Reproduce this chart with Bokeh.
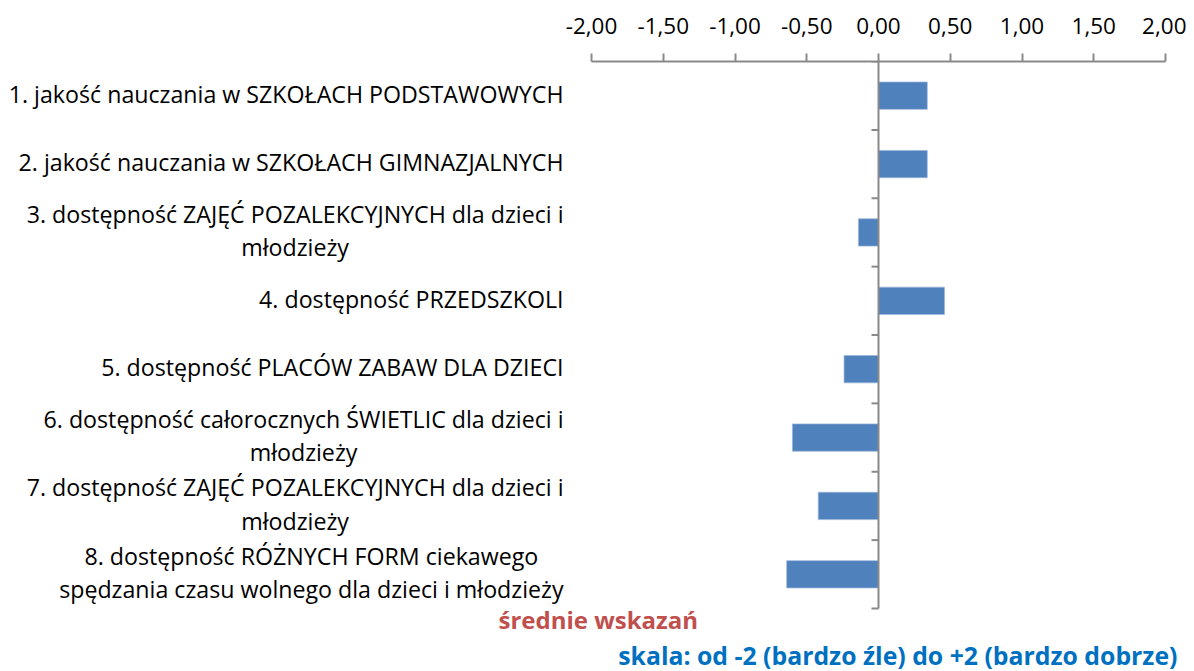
from bokeh.plotting import figure
from bokeh.models import Range1d, FixedTicker
from bokeh.core.properties import value
from bokeh.embed import file_html
from bokeh.resources import INLINE

# ---- data ----
categories = [
    "1. jakość nauczania w SZKOŁACH PODSTAWOWYCH",
    "2. jakość nauczania w SZKOŁACH GIMNAZJALNYCH",
    "3. dostępność ZAJĘĆ POZALEKCYJNYCH dla dzieci i\nmłodzieży",
    "4. dostępność PRZEDSZKOLI",
    "5. dostępność PLACÓW ZABAW DLA DZIECI",
    "6. dostępność całorocznych ŚWIETLIC dla dzieci i\nmłodzieży",
    "7. dostępność ZAJĘĆ POZALEKCYJNYCH dla dzieci i\nmłodzieży",
    "8. dostępność RÓŻNYCH FORM ciekawego\nspędzania czasu wolnego dla dzieci i młodzieży",
]
values = [0.34, 0.34, -0.14, 0.46, -0.24, -0.60, -0.42, -0.64]
tick_values = [-2.0, -1.5, -1.0, -0.5, 0.0, 0.5, 1.0, 1.5, 2.0]
tick_labels = ["-2,00", "-1,50", "-1,00", "-0,50", "0,00", "0,50", "1,00", "1,50", "2,00"]
series_title = "średnie wskazań"
scale_note = "skala: od -2 (bardzo źle) do +2 (bardzo dobrze)"

# ---- layout constants (pixels) ----
W, H = 1186, 671
PX_PER_UNIT = 143.5
ZERO_X = 878
FRAME_TOP = 61
ROWS_BOTTOM = 608
FONT = "Open Sans"
n = len(categories)

row_px = (ROWS_BOTTOM - FRAME_TOP) / n
x_start = (0 - ZERO_X) / PX_PER_UNIT
x_end = (W - ZERO_X) / PX_PER_UNIT
y_bottom = (H - FRAME_TOP) / row_px

def px_x(px):
    return (px - ZERO_X) / PX_PER_UNIT

def px_y(py):
    return (py - FRAME_TOP) / row_px

p = figure(width=W, height=H, output_backend="svg", toolbar_location=None,
           x_range=Range1d(x_start, x_end), y_range=Range1d(y_bottom, 0),
           x_axis_location="above", y_axis_location=None,
           min_border_left=0, min_border_right=0,
           min_border_top=FRAME_TOP, min_border_bottom=0)
p.outline_line_color = None
p.grid.visible = False

ys = [i + 0.5 for i in range(n)]

p.hbar(y=ys, left=0, right=values, height=0.4,
       fill_color="#4F81BD", line_color="#9DB6DA", line_width=0.7)

# top axis
ax = p.xaxis[0]
ax.ticker = FixedTicker(ticks=tick_values)
ax.major_label_overrides = {t: l for t, l in zip(tick_values, tick_labels)}
ax.bounds = (tick_values[0], tick_values[-1])
ax.axis_line_color = "#898989"
ax.axis_line_width = 2
ax.major_tick_line_color = "#898989"
ax.major_tick_line_width = 2
ax.major_tick_in = 0
ax.major_tick_out = 8
ax.minor_tick_line_color = None
ax.major_label_text_font = FONT
ax.major_label_text_font_size = "22.5px"
ax.major_label_text_color = "#000000"
ax.major_label_standoff = 20

# vertical axis line at zero with category separators
p.segment(x0=[0], x1=[0], y0=[0], y1=[n], line_color="#898989", line_width=2)
bounds_y = list(range(n + 1))
p.segment(x0=[-7 / PX_PER_UNIT] * len(bounds_y), x1=[0] * len(bounds_y),
          y0=bounds_y, y1=bounds_y, line_color="#898989", line_width=2)

# category labels
p.text(x=[px_x(563)] * n, y=ys, text=categories,
       text_font=value(FONT), text_font_size="23.2px", text_color="#000000",
       text_align="center", anchor="center_right", text_baseline="middle",
       text_line_height=1.05, y_offset=-2)

# bottom notes
p.text(x=[px_x(498)], y=[px_y(619)], text=[series_title],
       text_font=value(FONT), text_font_style="bold", text_font_size="24px",
       text_color="#C0504D", text_align="left", text_baseline="middle")
p.text(x=[px_x(1177)], y=[px_y(654)], text=[scale_note],
       text_font=value(FONT), text_font_style="bold", text_font_size="24.8px",
       text_color="#0070C0", text_align="right", text_baseline="middle")

open("out.html", "w").write(file_html(p, INLINE))
